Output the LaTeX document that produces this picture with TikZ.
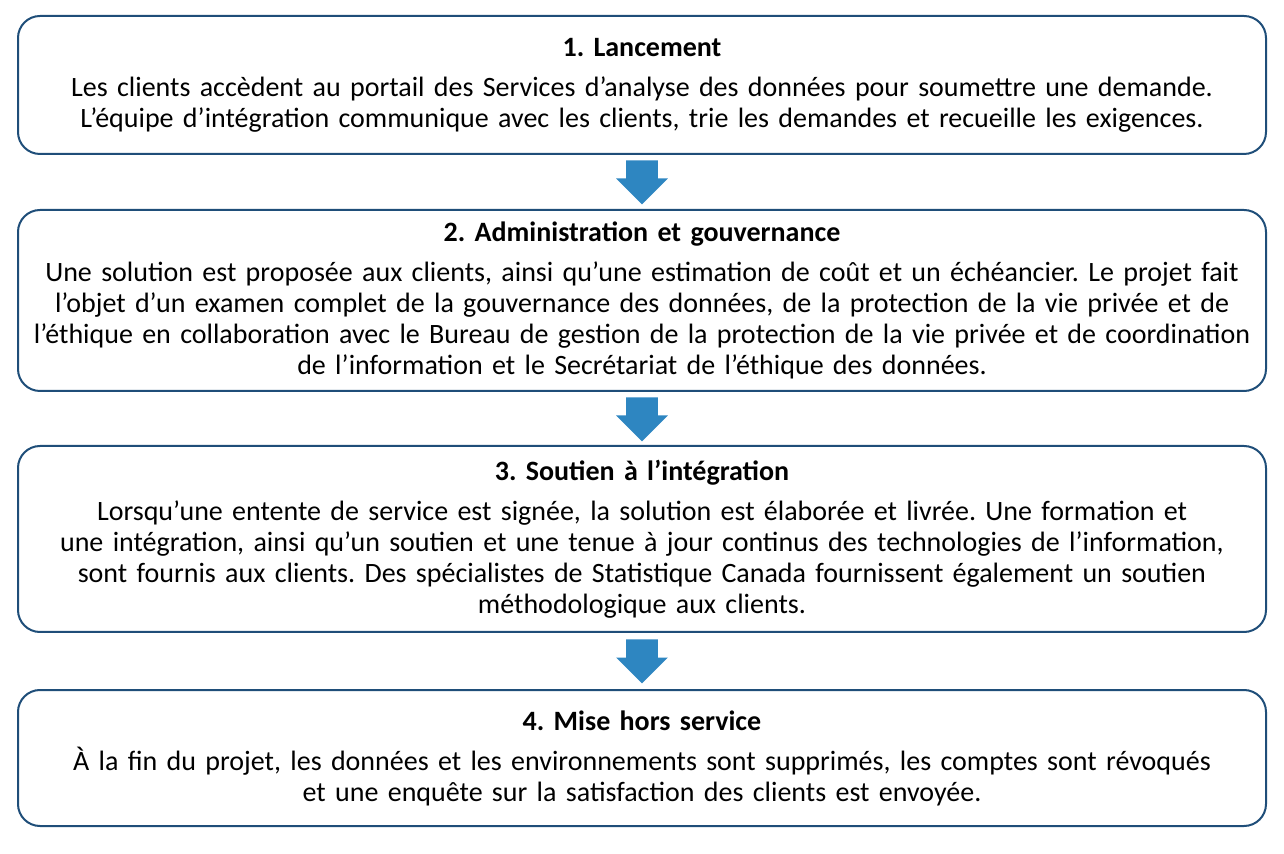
\documentclass[tikz,border=0pt]{standalone}
\usepackage{fontspec}
\setmainfont{Carlito}
\usetikzlibrary{shapes.arrows, positioning, calc}
\definecolor{boxblue}{HTML}{1F4E79}
\definecolor{arrowblue}{HTML}{2E86C1}
\frenchspacing

\begin{document}
\begin{tikzpicture}[
        % Étapes
        stepbox/.style={
                rectangle,
                rounded corners=11pt,
                draw=boxblue,
                line width=1pt,
                minimum width=624pt,
                minimum height=#1,
                text width=612pt,
                align=center,
                inner sep=0pt,
                font=\fontsize{14}{15.5}\selectfont
            },
        % Flèches
        downarrow/.style={
                single arrow,
                shape border rotate=270,
                fill=arrowblue,
                draw=none,
                inner xsep=7.75pt,
                inner ysep=0pt,
                minimum height=22pt,
                single arrow head extend=5pt,
                anchor=north
            }
    ]

    \useasboundingbox (0,0) rectangle (642pt,-427pt);

    % Étapes
    \node[stepbox=69pt] (lancement) at (321pt,-42.5pt) {
        \textbf{1. Lancement}\\[4.5pt]
        Les clients accèdent au portail des Services d’analyse des données pour soumettre une demande.\\
        L’équipe d’intégration communique avec les clients, trie les demandes et recueille les exigences.
    };

    \node[stepbox=90.5pt, below=27pt of lancement] (admin) {
        \textbf{2. Administration et gouvernance}\\[4.5pt]
        Une solution est proposée aux clients, ainsi qu’une estimation de coût et un échéancier. Le projet fait\\
        l’objet d’un examen complet de la gouvernance des données, de la protection de la vie privée et de\\
        l’éthique en collaboration avec le Bureau de gestion de la protection de la vie privée et de coordination\\
        de l’information et le Secrétariat de l’éthique des données.
    };

    \node[stepbox=93pt, below=26.5pt of admin] (soutien) {
        \textbf{3. Soutien à l’intégration}\\[4.5pt]
        Lorsqu’une entente de service est signée, la solution est élaborée et livrée. Une formation et\\
        une intégration, ainsi qu’un soutien et une tenue à jour continus des technologies de l’information,\\
        sont fournis aux clients. Des spécialistes de Statistique Canada fournissent également un soutien\\
        méthodologique aux clients.
    };

    \node[stepbox=68pt, below=28pt of soutien] (fin) {
        \textbf{4. Mise hors service}\\[4.5pt]
        À la fin du projet, les données et les environnements sont supprimés, les comptes sont révoqués\\
        et une enquête sur la satisfaction des clients est envoyée.
    };

    % Flèches entre étapes
    \node[downarrow] (a1) at ($(lancement.south)+(0,-2.5pt)$) {};
    \node[downarrow] (a2) at ($(admin.south)+(0,-2.5pt)$) {};
    \node[downarrow] (a3) at ($(soutien.south)+(0,-3pt)$) {};

\end{tikzpicture}
\end{document}
